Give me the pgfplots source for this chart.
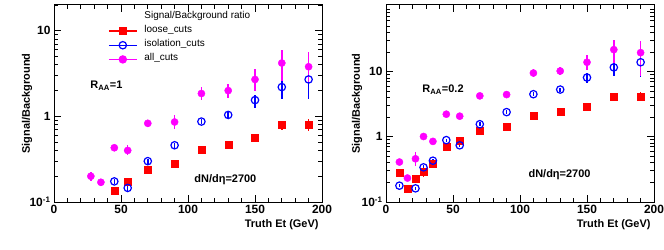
\documentclass[border=0pt]{standalone}
\usepackage{fontspec}
\setmainfont{Liberation Sans}
\usepackage{pgfplots}
\pgfplotsset{compat=1.18}
\definecolor{rootred}{RGB}{255,0,0}
\definecolor{rootblue}{RGB}{0,0,255}
\definecolor{rootmag}{RGB}{255,0,255}
\pgfplotsset{
  legend image code/.code={\draw[mark repeat=2,mark phase=2,#1] plot coordinates {(0bp,0bp) (14bp,0bp) (28bp,0bp)};},
}
\pgfplotsset{
  myroot/.style={
    scale only axis, width=268bp, height=197bp,
    xmin=0, xmax=200,
    axis line style={line width=1bp},
    tick style={black, line width=0.8bp},
    major tick length=7bp, minor tick length=4bp,
    xtick={0,50,100,150,200}, xticklabels={0,50,100,150,200},
    minor x tick num=4,
    ytick={0.1,1,10},
    yticklabels={{10\textsuperscript{-1}},1,10},
    minor ytick={0.2,0.3,0.4,0.5,0.6,0.7,0.8,0.9,2,3,4,5,6,7,8,9,20,30,40,50,60,70,80,90},
    tick label style={font=\fontsize{12}{14}\selectfont\bfseries},
    label style={font=\fontsize{11}{13}\selectfont\bfseries},
    xlabel={Truth Et (GeV)},
    ylabel={Signal/Background},
    xlabel style={at={(axis description cs:1,-0.114)}, anchor=east},
  },
  myerr/.style={/pgfplots/error bars/y dir=both, /pgfplots/error bars/y explicit,
    /pgfplots/error bars/error mark=none,
    /pgfplots/error bars/error bar style={line width=1.5bp}},
  mylooseplot/.style={only marks, rootred, mark=square*, mark size=3.5bp, myerr},
  myisoplot/.style={only marks, rootblue, mark=o, mark size=3.7bp, mark options={line width=1.2bp}, myerr},
  myallplot/.style={only marks, rootmag, mark=*, mark size=3.6bp, myerr},
}
\begin{document}
\begin{tikzpicture}[x=1bp,y=1bp]
\useasboundingbox (0,0) rectangle (664,249);
% ---------------- left panel ----------------
\begin{semilogyaxis}[myroot, at={(54bp,47bp)}, anchor=south west,
  ymin=0.1, ymax=20,
  ylabel style={at={(axis description cs:-0.1007,0.5)}, anchor=center},
  legend style={at={(axis description cs:0.2015,0.977)}, anchor=north west,
    draw=none, fill=none, inner sep=0pt, row sep=0pt,
    font=\fontsize{10}{12}\selectfont,
    nodes={inner sep=0pt, anchor=west, text height=8.5bp, text depth=5.7bp},
    /tikz/every odd column/.append style={column sep=7bp}},
  legend cell align=left,
]
\addlegendimage{empty legend}
\addlegendentry{Signal/Background ratio}
\addlegendimage{rootred, line width=1.2bp, mark=square*, mark size=3.5bp}
\addlegendentry{loose\_cuts}
\addlegendimage{rootblue, line width=1.2bp, mark=o, mark size=3.7bp}
\addlegendentry{isolation\_cuts}
\addlegendimage{rootmag, line width=1.2bp, mark=*, mark size=3.6bp}
\addlegendentry{all\_cuts}
\addplot[forget plot, mylooseplot] table[x=x, y=y, y error plus=ep, y error minus=em] {
x y ep em
45 0.137 0.01 0.01
55 0.172 0.01 0.01
70 0.24 0.015 0.015
90 0.277 0.02 0.02
110 0.41 0.03 0.03
130 0.47 0.04 0.04
150 0.57 0.05 0.05
170 0.79 0.10 0.10
190 0.80 0.14 0.13
};
\addplot[forget plot, myisoplot] table[x=x, y=y, y error plus=ep, y error minus=em] {
x y ep em
45 0.174 0.01 0.01
55 0.146 0.01 0.01
70 0.30 0.02 0.02
90 0.46 0.03 0.03
110 0.87 0.05 0.05
130 1.04 0.12 0.12
150 1.55 0.25 0.30
170 2.2 0.45 0.6
190 2.7 0.7 1.1
};
\addplot[forget plot, myallplot] table[x=x, y=y, y error plus=ep, y error minus=em] {
x y ep em
27.5 0.20 0.025 0.025
35 0.17 0.015 0.015
45 0.43 0.03 0.03
55 0.40 0.06 0.05
70 0.83 0.08 0.07
90 0.86 0.18 0.14
110 1.85 0.35 0.30
130 2.0 0.40 0.35
150 2.7 0.9 0.7
170 4.2 1.8 1.6
190 3.8 1.9 1.3
};
\node[anchor=west, font=\fontsize{11}{13}\selectfont\bfseries] at (axis description cs:0.123,0.589) {R\textsubscript{AA}=1};
\node[anchor=west, font=\fontsize{11}{13}\selectfont\bfseries] at (axis description cs:0.511,0.112) {dN/dη=2700};
\end{semilogyaxis}
% ---------------- right panel ----------------
\begin{semilogyaxis}[myroot, at={(386bp,47bp)}, anchor=south west,
  ymin=0.1, ymax=105,
  ylabel style={at={(axis description cs:-0.108,0.5)}, anchor=center},
]
\addplot[mylooseplot] table[x=x, y=y, y error plus=ep, y error minus=em] {
x y ep em
10 0.284 0.02 0.02
16 0.162 0.01 0.01
22 0.225 0.02 0.02
28 0.288 0.05 0.05
35 0.39 0.03 0.03
45 0.70 0.04 0.04
55 0.87 0.06 0.06
70 1.22 0.07 0.07
90 1.41 0.08 0.08
110 2.07 0.10 0.10
130 2.39 0.12 0.12
150 2.91 0.15 0.15
170 4.09 0.4 0.4
190 4.09 0.7 0.6
};
\addplot[myisoplot] table[x=x, y=y, y error plus=ep, y error minus=em] {
x y ep em
10 0.178 0.01 0.01
22 0.162 0.01 0.01
28 0.34 0.03 0.03
35 0.43 0.03 0.03
45 0.89 0.05 0.05
55 0.74 0.05 0.05
70 1.56 0.10 0.10
90 2.39 0.15 0.15
110 4.5 0.3 0.3
130 5.3 0.4 0.4
150 8.1 1.3 1.3
170 11.6 2.5 3.0
190 13.9 5.0 5.5
};
\addplot[myallplot] table[x=x, y=y, y error plus=ep, y error minus=em] {
x y ep em
10 0.41 0.03 0.03
16 0.233 0.02 0.02
22 0.46 0.12 0.10
28 1.01 0.12 0.10
35 0.85 0.08 0.08
45 2.22 0.15 0.15
55 2.07 0.25 0.20
70 4.24 0.4 0.4
90 4.44 0.6 0.5
110 9.5 1.3 1.1
130 10.2 1.6 1.3
150 13.9 4.0 3.4
170 21.7 9.0 8.0
190 19.5 10.0 11.0
};
\node[anchor=west, font=\fontsize{11}{13}\selectfont\bfseries] at (axis description cs:0.123,0.569) {R\textsubscript{AA}=0.2};
\node[anchor=west, font=\fontsize{11}{13}\selectfont\bfseries] at (axis description cs:0.519,0.137) {dN/dη=2700};
\end{semilogyaxis}
\end{tikzpicture}
\end{document}
